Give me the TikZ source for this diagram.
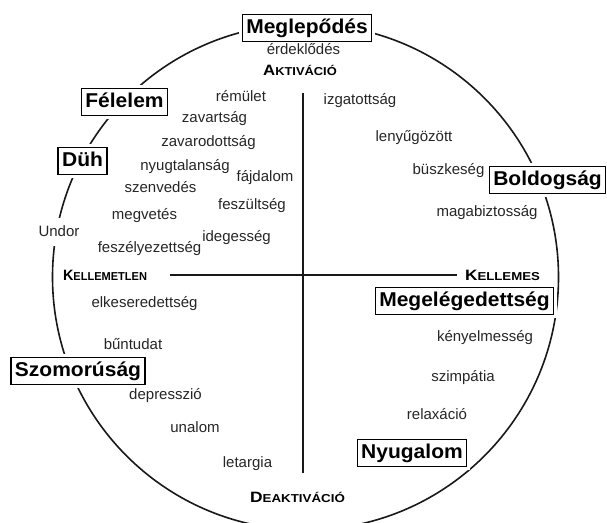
\documentclass[tikz,border=0pt]{standalone}
\usepackage{fontspec}
\usepackage{graphicx}
\setmainfont{Liberation Sans}
\newfontfamily\wordfont{Liberation Sans}
\newfontfamily\boxfont[FakeStretch=1.05]{Liberation Sans}
\newcommand\axlab[3]{\scalebox{#1}[1]{\bfseries\fontsize{15}{17}\selectfont #2\fontsize{11.5}{13}\selectfont #3}}
\tikzset{
  word/.style={font={\wordfont\fontsize{15}{18}\selectfont}, text=black!85, inner sep=0pt, text height=11pt, text depth=3pt},
  emobox/.style={draw=black, fill=white, line width=1.2pt, font={\boxfont\bfseries\fontsize{20}{24}\selectfont},
    text height=15pt, text depth=4.5pt, inner xsep=4pt, inner ysep=4pt,
    preaction={draw=white, line width=7pt}},
  axislabel/.style={inner sep=0pt, text=black},
  axisline/.style={line width=2pt, black!90},
  circ/.style={line width=1.6pt, black!90}
}
\begin{document}
\begin{tikzpicture}[x=1pt, y={(0pt,-1pt)}]
\path[use as bounding box] (0,0) rectangle (607,522);
\clip (0,0) rectangle (607,522);
\fill[white] (0,0) rectangle (607,522);
\coordinate (ctr) at (305.5,277);
\draw[circ] (ctr) circle[radius=253pt];
% axes
\coordinate (vT) at (303,93);
\coordinate (vB) at (303,473);
\coordinate (hL) at (170,275);
\coordinate (hR) at (457,275);
\draw[axisline] (vT) -- (vB);
\draw[axisline] (hL) -- (hR);
% boxes
\node[emobox] (meglep) at (307,28) {Meglepődés};
\node[emobox] (felelem) at (124.5,102) {Félelem};
\node[emobox] (duh) at (82.5,161) {Düh};
\node[emobox] (boldog) at (547.5,180) {Boldogság};
\node[emobox] (szomor) at (78,371) {Szomorúság};
\node[emobox] (megeleg) at (464.5,301) {Megelégedettség};
\node[emobox] (nyugalom) at (412,453) {Nyugalom};
% axis labels
\node[axislabel] (aktiv) at (300,70) {\axlab{1.12}{A}{KTIVÁCIÓ}};
\node[axislabel] (deaktiv) at (297.5,497) {\axlab{1.16}{D}{EAKTIVÁCIÓ}};
\node[axislabel] (kellemetlen) at (105,275) {\axlab{0.96}{K}{ELLEMETLEN}};
\node[axislabel] (kellemes) at (502.5,275) {\axlab{1.15}{K}{ELLEMES}};
% words
\node[word] (erdek) at (303.5,50) {érdeklődés};
\node[word] (remulet) at (241,97) {rémület};
\node[word] (zavart) at (214.5,118) {zavartság};
\node[word] (zavarod) at (208.5,142) {zavarodottság};
\node[word] (nyugtal) at (185,166) {nyugtalanság};
\node[word] (fajd) at (265,177) {fájdalom};
\node[word] (szenv) at (160.5,188) {szenvedés};
\node[word] (feszult) at (252,205) {feszültség};
\node[word] (megvet) at (144.5,215) {megvetés};
\node[word, fill=white, inner xsep=1pt, inner ysep=7pt] (undor) at (59,232) {Undor};
\node[word] (ideges) at (236.5,237) {idegesség};
\node[word] (feszely) at (149.5,248) {feszélyezettség};
\node[word] (izgat) at (360,100) {izgatottság};
\node[word] (lenyu) at (414,137) {lenyűgözött};
\node[word] (buszke) at (448.5,170) {büszkeség};
\node[word] (magab) at (487,212) {magabiztosság};
\node[word] (elkes) at (144.5,303) {elkeseredettség};
\node[word] (buntud) at (133,345) {bűntudat};
\node[word] (depr) at (165.5,395) {depresszió};
\node[word] (unalom) at (195,428) {unalom};
\node[word] (letarg) at (247.5,463) {letargia};
\node[word] (kenyel) at (485,337) {kényelmesség};
\node[word] (szimp) at (463,377) {szimpátia};
\node[word] (relax) at (437,415) {relaxáció};
\end{tikzpicture}
\end{document}
